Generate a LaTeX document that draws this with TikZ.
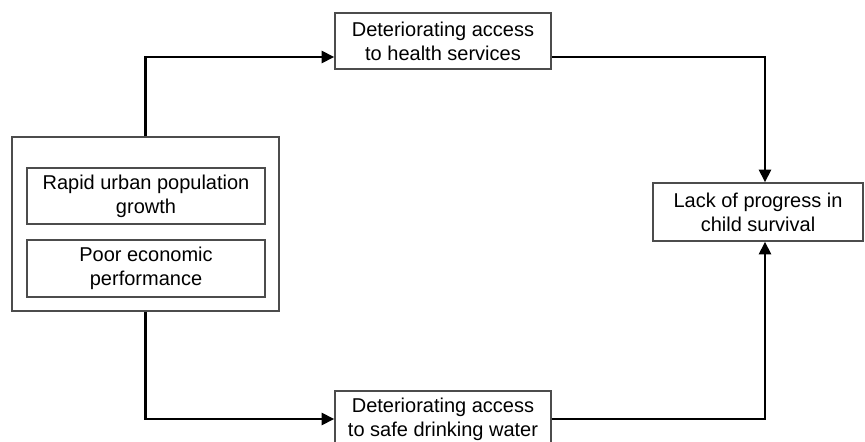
\documentclass[tikz,border=0pt]{standalone}
\usepackage{fontspec}
\setmainfont{Liberation Sans}
\usetikzlibrary{arrows.meta}
\begin{document}
\begin{tikzpicture}[x=0.75pt,y=-0.75pt,
  box/.style={draw=black!70,line width=1.1pt,fill=white,inner sep=0pt,align=center,
    font=\fontsize{15pt}{17.8pt}\selectfont},
  conn/.style={line width=2pt,-{Triangle[length=9.5pt,width=9pt]}}]
\useasboundingbox (0,0) rectangle (865,442);
\fill[white] (0,0) rectangle (865,442);
\clip (0,0) rectangle (865,442);
\node[box,minimum width=200.25pt,minimum height=130.5pt] (outer) at (145.5,224) {};
\node[box,minimum width=178.5pt,minimum height=42pt] (rapid) at (146,196) {Rapid urban population\\growth};
\node[box,minimum width=178.5pt,minimum height=42.75pt] (poor) at (146,268.5) {Poor economic\\performance};
\node[box,minimum width=162pt,minimum height=42pt] (top) at (443,41) {Deteriorating access\\to health services};
\node[box,minimum width=162pt,minimum height=42pt] (bot) at (443,419) {Deteriorating access\\to safe drinking water};
\node[box,minimum width=157.5pt,minimum height=43.5pt] (right) at (758,212) {Lack of progress in\\child survival};
\draw[conn] (outer.north) |- ([yshift=-12pt]top.west);
\draw[conn] ([yshift=-12pt]top.east) -| ([xshift=5.25pt]right.north);
\draw[conn] (outer.south) |- (bot.west);
\draw[conn] (bot.east) -| ([xshift=5.25pt]right.south);
\end{tikzpicture}
\end{document}
